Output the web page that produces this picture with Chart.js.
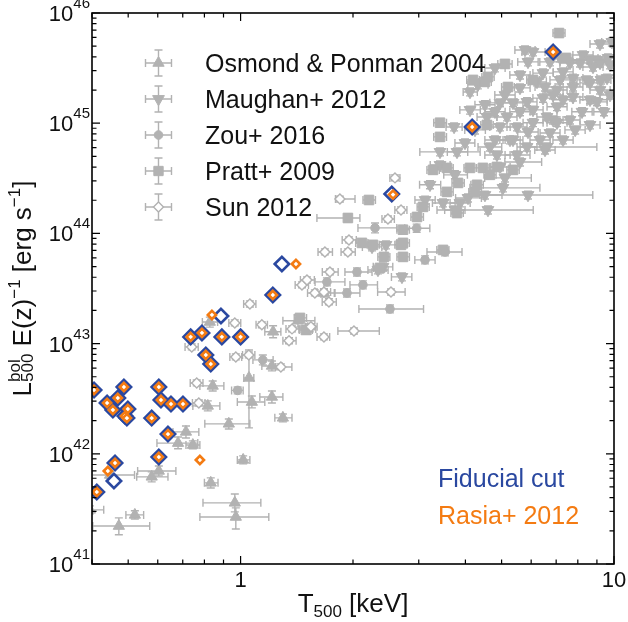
<!DOCTYPE html>
<html>
<head>
<meta charset="utf-8">
<title>L-T relation</title>
<script src="https://cdn.jsdelivr.net/npm/chart.js@4.4.1/dist/chart.umd.min.js"></script>
<style>
html,body{margin:0;padding:0;background:#ffffff;}
#box{position:relative;width:628px;height:622px;}
canvas{display:block;}
</style>
</head>
<body>
<div id="box"><canvas id="chart" width="628" height="622"></canvas></div>
<script>
// ---------------- data: T500 [keV], L500 E(z)^-1 [erg/s]; errors are [minus, plus] ----------------
const osmondT = [0.472,0.521,0.578,0.604,0.680,0.714,0.745,0.817,0.842,0.930,0.965,0.971,1.016,1.072,1.053,1.213,1.298,1.222,1.424,1.514,1.213,0.832,0.827,0.447,0.395,1.672];
const osmondL = [2.21e41,2.79e41,6.18e41,6.99e41,1.25e42,1.58e42,1.20e42,2.72e42,4.13e42,1.87e42,3.59e41,2.67e41,8.80e41,2.95e42,4.88e42,3.28e42,2.12e42,1.28e43,1.61e43,1.36e43,6.27e42,5.45e41,1.57e43,6.43e41,3.10e41,2.88e43];
const osmondTerr = [[0.070,0.099],[0.028,0.029],[0.051,0.061],[0.074,0.067],[0.083,0.088],[0.055,0.059],[0.031,0.033],[0.072,0.063],[0.064,0.060],[0.128,0.129],[0.172,0.168],[0.193,0.219],[0.036,0.043],[0.092,0.089],[0.033,0.032],[0.087,0.085],[0.063,0.075],[0.061,0.060],[0.126,0.157],[0.072,0.076],[0.073,0.077],[0.032,0.038],[0.037,0.041],[0.047,0.073],[0.025,0.035],[0.10,0.11]];
const osmondLerr = [[3.7e40,4.1e40],[2.3e40,2.5e40],[6.2e40,6.7e40],[6.9e40,7.7e40],[1.4e41,1.7e41],[1.9e41,2.1e41],[0.9e41,1.1e41],[2.7e41,3.0e41],[4.1e41,4.5e41],[1.9e41,2.0e41],[6.2e40,7.3e40],[5.9e40,5.6e40],[7.0e40,7.7e40],[3.4e41,4.0e41],[3.16e42,3.88e42],[3.9e41,4.4e41],[1.7e41,1.8e41],[1.5e42,1.7e42],[2.0e42,2.1e42],[1.4e42,1.5e42],[6.2e41,6.9e41],[5.5e40,6.0e40],[1.6e42,1.7e42],[4.3e40,4.7e40],[2.5e40,2.7e40],[2.3e42,2.5e42]];

const maughanT = [6.068,4.115,3.73,3.42,3.99,3.798,4.654,4.859,5.498,6.616,5.043,5.884,3.484,4.597,3.869,2.705,2.406,2.451,2.249,2.333,6.22,6.455,7.302,7.623,8.261,9.006,9.757,7.766,8.468,8.786,9.58,4.950,5.364,5.849,6.455,6.865,6.068,7.037,7.766,8.625,5.169,4.568,4.950,5.499,6.068,6.865,5.364,5.849,6.616,7.037,6.739,9.006,7.302,8.109,9.174,6.535,7.037,8.625,9.23,5.601,5.777,7.168,7.766,8.625,9.64,
  4.80,5.884,4.32,5.105,4.512,4.80,5.601,5.884,6.336,7.302,7.623,8.21,9.174,9.757,9.40,5.601,5.105,4.512,4.065,3.75,3.215,4.244,4.115,4.80,6.535,7.168,6.739,9.174,9.87,5.601,7.87,8.625,3.42,3.12,3.75,5.266,4.950];
const maughanL = [4.43e45,1.92e45,9.25e44,5.49e44,6.62e44,5.49e44,6.09e44,5.15e44,5.15e44,6.09e44,2.59e44,2.23e44,1.89e44,1.63e44,1.89e44,4.03e43,4.97e43,7.87e43,7.54e43,4.66e43,2.37e45,2.85e45,2.92e45,3.52e45,4.16e45,3.75e45,3.38e45,2.57e45,2.47e45,3.24e45,2.57e45,1.53e45,1.53e45,1.56e45,1.69e45,1.80e45,1.32e45,1.41e45,1.73e45,1.63e45,1.14e45,1.14e45,9.25e44,9.25e44,1.01e45,1.07e45,7.05e44,6.09e44,1.14e45,1.01e45,8.16e44,1.56e45,1.63e45,3.52e45,3.52e45,2.13e45,2.00e45,2.32e45,2.47e45,2.09e45,4.62e45,2.47e45,2.13e45,3.75e45,3.91e45,
  3.17e45,3.60e45,2.23e45,1.80e45,1.47e45,1.27e45,1.27e45,8.33e44,7.05e44,7.05e44,1.07e45,1.27e45,2.00e45,1.80e45,1.27e45,4.45e44,3.19e44,2.23e44,2.10e44,3.40e44,2.76e44,8.69e44,1.32e45,7.05e44,5.72e44,3.91e45,3.60e45,5.23e45,5.46e45,2.74e45,8.69e44,9.65e44,4.18e44,2.01e44,1.63e44,7.05e44,4.01e44];
const maughanTerr = [[0.40,0.47],[0.17,0.19],[0.18,0.19],[0.40,0.96],[0.24,0.25],[0.22,0.26],[0.33,0.35],[0.35,0.41],[0.39,0.46],[1.01,2.38],[0.93,1.29],[1.51,2.89],[0.22,0.27],[1.24,1.48],[0.23,0.25],[0.17,0.17],[0.14,0.15],[0.14,0.16],[0.13,0.14],[0.14,0.15],[0.33,0.37],[0.39,0.42],[0.43,0.47],[0.46,0.49],[0.50,0.53],[0.54,0.58],[0.58,0.60],[0.46,0.49],[0.51,0.54],[0.53,0.56],[0.58,0.42],[0.30,0.35],[0.32,0.34],[0.35,0.37],[0.39,0.42],[0.41,0.44],[0.36,0.39],[0.42,0.45],[0.46,0.49],[0.52,0.96],[0.31,0.33],[0.27,0.29],[0.30,0.32],[0.33,0.35],[0.36,0.39],[0.41,0.44],[0.32,0.34],[0.35,0.37],[0.40,0.42],[0.42,0.45],[0.40,0.43],[0.54,0.58],[0.43,0.47],[0.49,0.52],[0.55,0.58],[0.39,0.42],[0.42,0.45],[0.52,0.55],[0.55,0.58],[0.34,0.36],[0.35,0.37],[0.43,0.46],[0.46,0.49],[0.52,0.55],[0.58,0.36],
  [0.29,0.31],[0.36,0.38],[0.26,0.28],[0.31,0.33],[0.27,0.29],[0.29,0.31],[0.34,0.36],[0.36,0.38],[0.38,0.41],[0.44,0.47],[0.46,0.49],[0.50,0.53],[0.55,0.59],[0.59,0.63],[0.57,0.60],[0.50,0.80],[0.60,0.90],[0.40,0.50],[0.30,0.35],[0.25,0.30],[0.20,0.22],[0.26,0.28],[0.25,0.27],[0.29,0.31],[0.40,0.42],[0.43,0.46],[0.41,0.43],[0.55,0.59],[0.60,0.60],[0.34,0.36],[0.48,0.50],[0.52,0.55],[0.20,0.22],[0.19,0.20],[0.23,0.24],[0.32,0.34],[0.30,0.32]];
const maughanLerr = [[3.5e44,3.9e44],[1.5e44,1.7e44],[7.4e43,8.0e43],[4.4e43,4.8e43],[5.3e43,5.8e43],[4.4e43,4.8e43],[4.9e43,5.3e43],[4.1e43,4.5e43],[4.1e43,4.5e43],[4.9e43,5.3e43],[2.1e43,2.3e43],[1.8e43,1.9e43],[1.5e43,1.6e43],[1.3e43,1.4e43],[1.5e43,1.6e43],[3.2e42,3.5e42],[4.0e42,4.3e42],[6.3e42,6.8e42],[6.0e42,6.6e42],[3.7e42,4.1e42],[1.9e44,2.1e44],[2.3e44,2.5e44],[2.3e44,2.5e44],[2.8e44,3.1e44],[3.3e44,3.6e44],[3.0e44,3.3e44],[2.7e44,2.9e44],[2.1e44,2.2e44],[2.0e44,2.1e44],[2.6e44,2.8e44],[2.1e44,2.2e44],[1.2e44,1.3e44],[1.2e44,1.3e44],[1.2e44,1.4e44],[1.4e44,1.5e44],[1.4e44,1.6e44],[1.1e44,1.1e44],[1.1e44,1.2e44],[1.4e44,1.5e44],[1.3e44,1.4e44],[9.1e43,9.9e43],[9.1e43,9.9e43],[7.4e43,8.0e43],[7.4e43,8.0e43],[8.0e43,8.8e43],[8.6e43,9.3e43],[5.6e43,6.1e43],[4.9e43,5.3e43],[9.1e43,9.9e43],[8.0e43,8.8e43],[6.5e43,7.1e43],[1.2e44,1.4e44],[1.3e44,1.4e44],[2.8e44,3.1e44],[2.8e44,3.1e44],[1.7e44,1.9e44],[1.6e44,1.7e44],[1.9e44,2.0e44],[2.0e44,2.1e44],[1.7e44,1.8e44],[3.7e44,4.0e44],[2.0e44,2.1e44],[1.7e44,1.9e44],[3.0e44,3.3e44],[3.1e44,3.4e44],
  [2.5e44,2.8e44],[2.9e44,3.1e44],[1.8e44,1.9e44],[1.4e44,1.6e44],[1.2e44,1.3e44],[1.0e44,1.1e44],[1.0e44,1.1e44],[6.7e43,7.2e43],[5.6e43,6.1e43],[5.6e43,6.1e43],[8.6e43,9.3e43],[1.0e44,1.1e44],[1.6e44,1.7e44],[1.4e44,1.6e44],[1.0e44,1.1e44],[3.6e43,3.9e43],[2.6e43,2.8e43],[1.8e43,1.9e43],[1.7e43,1.8e43],[2.7e43,3.0e43],[2.2e43,2.4e43],[7.0e43,7.6e43],[1.1e44,1.1e44],[5.6e43,6.1e43],[4.6e43,5.0e43],[3.1e44,3.4e44],[2.9e44,3.1e44],[4.2e44,4.5e44],[4.4e44,4.8e44],[2.2e44,2.4e44],[7.0e43,7.6e43],[7.7e43,8.4e43],[3.3e43,3.6e43],[1.6e43,1.7e43],[1.3e43,1.4e43],[5.6e43,6.1e43],[3.2e43,3.5e43]];

const zouT = [0.982,1.147,1.703,2.050,2.126,1.927,2.291,2.512,3.527,3.118,2.962];
const zouL = [3.76e42,7.11e42,3.63e43,4.47e43,3.41e43,2.88e43,1.122e44,2.06e43,6.79e43,5.75e43,1.115e44];
const zouTerr = [[0.036,0.034],[0.068,0.075],[0.12,0.20],[0.147,0.199],[0.163,0.20],[0.137,0.16],[0.229,0.33],[0.438,0.578],[0.371,0.39],[0.19,0.20],[0.21,0.25]];
const zouLerr = [[2.6e41,2.8e41],[7.0e41,7.8e41],[2.9e42,3.2e42],[3.6e42,3.9e42],[2.7e42,3.0e42],[2.3e42,2.5e42],[1.1e43,1.2e43],[1.6e42,1.8e42],[5.4e42,5.9e42],[4.6e42,5.0e42],[9.0e42,1.0e43]];

const prattT = [7.124,5.105,4.596,4.512,5.20,3.42,3.42,4.568,3.275,3.57,4.115,4.457,4.859,5.364,4.654,3.822,4.297,3.57,4.244,3.798,3.08,2.968,2.722,2.207,2.722,2.722,2.113,2.263,2.689,3.484,2.362,2.421,1.938,1.496,1.442,4.192,6.068,7.438];
const prattL = [6.58e45,3.45e45,2.63e45,2.37e45,2.13e45,1.01e45,7.51e44,9.65e44,3.77e44,3.93e44,3.93e44,3.93e44,4.01e44,3.77e44,3.40e44,2.87e44,2.76e44,2.38e44,2.38e44,1.53e44,1.74e44,1.41e44,1.08e44,2.01e44,8.20e43,6.12e43,8.20e43,7.87e43,7.87e43,7.08e43,4.86e43,6.12e43,1.38e44,1.33e43,1.71e43,2.47e45,2.47e45,3.91e45];
const prattTerr = [[0.26,0.27],[0.22,0.23],[0.17,0.18],[0.17,0.18],[0.20,0.21],[0.13,0.14],[0.13,0.14],[0.17,0.18],[0.12,0.13],[0.13,0.14],[0.15,0.16],[0.17,0.17],[0.18,0.19],[0.20,0.21],[0.17,0.18],[0.14,0.15],[0.16,0.17],[0.13,0.14],[0.16,0.17],[0.14,0.15],[0.11,0.12],[0.11,0.12],[0.10,0.11],[0.08,0.09],[0.10,0.11],[0.10,0.11],[0.08,0.08],[0.08,0.09],[0.10,0.10],[0.13,0.13],[0.09,0.09],[0.09,0.09],[0.337,0.149],[0.06,0.06],[0.05,0.06],[0.16,0.17],[0.23,0.24],[0.28,0.29]];
const prattLerr = [[5.3e44,5.7e44],[2.8e44,3.0e44],[2.1e44,2.3e44],[1.9e44,2.1e44],[1.7e44,1.9e44],[8.0e43,8.8e43],[6.0e43,6.5e43],[7.7e43,8.4e43],[3.0e43,3.3e43],[3.1e43,3.4e43],[3.1e43,3.4e43],[3.1e43,3.4e43],[3.2e43,3.5e43],[3.0e43,3.3e43],[2.7e43,3.0e43],[2.3e43,2.5e43],[2.2e43,2.4e43],[1.9e43,2.1e43],[1.9e43,2.1e43],[1.2e43,1.3e43],[1.4e43,1.5e43],[1.1e43,1.2e43],[8.6e42,9.4e42],[1.6e43,1.7e43],[6.6e42,7.1e42],[4.9e42,5.3e42],[6.6e42,7.1e42],[6.3e42,6.8e42],[6.3e42,6.8e42],[5.7e42,6.2e42],[3.9e42,4.2e42],[4.9e42,5.3e42],[1.1e43,1.2e43],[1.1e42,1.2e42],[1.4e42,1.5e42],[2.0e44,2.1e44],[2.0e44,2.1e44],[3.1e44,3.4e44]];

const sunT = [0.740,0.763,0.773,0.965,0.971,1.059,1.14,1.348,1.373,1.46,1.672,2.012,1.543,1.735,1.506,1.581,1.672,1.724,1.682,1.938,1.951,1.845,2.591,2.689,2.481,2.528,1.052,1.282];
const sunL = [9.33e42,4.39e42,2.89e42,1.54e43,7.57e42,2.29e43,1.48e43,1.06e43,1.36e43,3.41e43,1.15e43,1.30e43,1.42e43,4.47e43,3.78e43,2.88e43,2.94e43,2.39e43,6.79e43,6.79e43,8.73e43,2.05e44,3.19e44,1.63e44,1.35e44,2.94e43,7.89e42,6.14e42];
const sunTerr = [[0.03,0.03],[0.03,0.03],[0.03,0.03],[0.035,0.036],[0.035,0.036],[0.04,0.04],[0.04,0.04],[0.05,0.06],[0.05,0.06],[0.06,0.06],[0.07,0.06],[0.19,0.34],[0.05,0.06],[0.08,0.09],[0.06,0.07],[0.07,0.07],[0.07,0.07],[0.07,0.08],[0.07,0.08],[0.08,0.09],[0.08,0.09],[0.05,0.18],[0.08,0.08],[0.10,0.10],[0.09,0.10],[0.20,0.23],[0.04,0.04],[0.04,0.09]];
const sunLerr = [[5.6e41,6.1e41],[2.6e41,2.9e41],[1.7e41,1.9e41],[9.2e41,1.0e42],[4.5e41,4.9e41],[1.4e42,1.5e42],[8.9e41,9.6e41],[6.4e41,6.9e41],[8.2e41,8.8e41],[2.0e42,2.2e42],[6.9e41,7.5e41],[7.8e41,8.5e41],[8.5e41,9.2e41],[2.7e42,2.9e42],[2.3e42,2.5e42],[1.7e42,1.9e42],[1.8e42,1.9e42],[1.4e42,1.6e42],[4.1e42,4.4e42],[4.1e42,4.4e42],[5.2e42,5.7e42],[1.2e43,1.3e43],[1.9e43,2.1e43],[9.8e42,1.1e43],[8.1e42,8.8e42],[1.8e42,1.9e42],[4.7e41,5.1e41],[3.7e41,4.0e41]];

const fiducialT = [6.87,4.17,2.54,1.29,1.22,0.886,0.735,0.788,0.891,1.00,0.807,0.832,0.405,0.439,0.455,0.469,0.487,0.490,0.499,0.496,0.578,0.604,0.612,0.651,0.701,0.639,0.604,0.461,0.458,0.412];
const fiducialL = [4.43e45,9.24e44,2.28e44,5.28e43,2.76e43,1.78e43,1.15e43,1.25e43,1.15e43,1.15e43,7.88e42,6.53e42,3.79e42,2.89e42,2.50e42,3.21e42,4.04e42,2.20e42,2.55e42,2.11e42,2.11e42,4.04e42,3.08e42,2.83e42,2.83e42,1.51e42,9.35e41,8.25e41,5.66e41,4.50e41];

const rasiaT = [6.87,4.17,2.56,1.22,0.735,0.788,0.891,1.00,0.807,0.832,0.405,0.439,0.455,0.469,0.487,0.490,0.499,0.496,0.578,0.604,0.612,0.651,0.701,0.639,0.604,0.461,0.412,1.407,0.838,0.441,0.778];
const rasiaL = [4.43e45,9.24e44,2.25e44,2.76e43,1.15e43,1.25e43,1.15e43,1.15e43,7.88e42,6.53e42,3.79e42,2.89e42,2.50e42,3.21e42,4.04e42,2.20e42,2.55e42,2.11e42,2.11e42,4.04e42,3.08e42,2.83e42,2.83e42,1.51e42,9.35e41,8.25e41,4.50e41,5.28e43,1.82e43,6.98e41,8.79e41];

const legendNames = ['Osmond & Ponman 2004','Maughan+ 2012','Zou+ 2016','Pratt+ 2009','Sun 2012'];
const cutLabels = ['Fiducial cut','Rasia+ 2012'];
const xRange = [0.4, 10];
const yRange = [1e41, 1e46];
const xTickValues = [1, 10];
const xTickLabels = ['1', '10'];
const yTickExponents = [41, 42, 43, 44, 45, 46];

// ---------------- styling ----------------
const FONT = "'Liberation Sans', Arial, Helvetica, sans-serif";
const GREY = '#b2b2b2';
const BLUE = '#2a48a0';
const ORANGE = '#f47b12';
const CAP = 4;

function pts(T, L) { return T.map((t, i) => ({ x: t, y: L[i] })); }

function greyDs(label, T, L, eT, eL, style, radius, extra) {
  return Object.assign({
    label: label, data: pts(T, L), errT: eT, errL: eL,
    pointStyle: style, pointRadius: radius, pointHoverRadius: radius,
    pointBackgroundColor: GREY, pointBorderColor: GREY, pointBorderWidth: 1,
    backgroundColor: GREY, borderColor: GREY, showLine: false, clip: 0
  }, extra || {});
}

// error bars drawn through the chart's own scales
const errorBarPlugin = {
  id: 'errorBars',
  beforeDatasetsDraw(chart) {
    const ctx = chart.ctx, a = chart.chartArea;
    const xs = chart.scales.x, ys = chart.scales.y;
    ctx.save();
    ctx.beginPath();
    ctx.rect(a.left, a.top, a.right - a.left, a.bottom - a.top);
    ctx.clip();
    ctx.strokeStyle = GREY;
    ctx.lineWidth = 1.4;
    chart.data.datasets.forEach(ds => {
      if (!ds.errT) return;
      ds.data.forEach((p, i) => {
        const et = ds.errT[i] || [0, 0], el = ds.errL[i] || [0, 0];
        const x = xs.getPixelForValue(p.x), y = ys.getPixelForValue(p.y);
        const x0 = xs.getPixelForValue(p.x - et[0]), x1 = xs.getPixelForValue(p.x + et[1]);
        const y0 = ys.getPixelForValue(p.y - el[0]), y1 = ys.getPixelForValue(p.y + el[1]);
        ctx.beginPath();
        ctx.moveTo(x0, y); ctx.lineTo(x1, y);
        ctx.moveTo(x, y0); ctx.lineTo(x, y1);
        ctx.moveTo(x0, y - CAP); ctx.lineTo(x0, y + CAP);
        ctx.moveTo(x1, y - CAP); ctx.lineTo(x1, y + CAP);
        ctx.moveTo(x - CAP, y0); ctx.lineTo(x + CAP, y0);
        ctx.moveTo(x - CAP, y1); ctx.lineTo(x + CAP, y1);
        ctx.stroke();
      });
    });
    ctx.restore();
  }
};

function drawMarker(ctx, style, x, y, r, fill, stroke, lw) {
  ctx.beginPath();
  if (style === 'triangle' || style === 'triangleDown') {
    const s = style === 'triangle' ? 1 : -1;
    for (let k = 0; k < 3; k++) {
      const ang = k * 2 * Math.PI / 3;
      const px = x + Math.sin(ang) * r, py = y - s * Math.cos(ang) * r;
      if (k === 0) ctx.moveTo(px, py); else ctx.lineTo(px, py);
    }
    ctx.closePath();
  } else if (style === 'circle') {
    ctx.arc(x, y, r, 0, 2 * Math.PI);
  } else if (style === 'rect') {
    const h = r * Math.SQRT1_2;
    ctx.rect(x - h, y - h, 2 * h, 2 * h);
  } else if (style === 'rectRot') {
    ctx.moveTo(x - r, y); ctx.lineTo(x, y - r); ctx.lineTo(x + r, y); ctx.lineTo(x, y + r);
    ctx.closePath();
  }
  ctx.fillStyle = fill; ctx.fill();
  ctx.strokeStyle = stroke; ctx.lineWidth = lw; ctx.stroke();
}

const frameTicksPlugin = {
  id: 'frameTicks',
  afterDraw(chart) {
    const ctx = chart.ctx, a = chart.chartArea;
    const xs = chart.scales.x, ys = chart.scales.y;
    ctx.save();
    // ticks (inside, all four sides)
    ctx.strokeStyle = '#000';
    ctx.lineWidth = 1.2;
    ctx.beginPath();
    [0.1, 1, 10].forEach(d => {
      for (let k = 1; k <= 9; k++) {
        const v = k * d;
        if (v < xRange[0] * 0.999 || v > xRange[1] * 1.001) continue;
        const px = xs.getPixelForValue(v);
        const len = k === 1 ? 8 : 4.5;
        ctx.moveTo(px, a.bottom); ctx.lineTo(px, a.bottom - len);
        ctx.moveTo(px, a.top); ctx.lineTo(px, a.top + len);
      }
    });
    for (let e = 41; e <= 46; e++) {
      for (let k = 1; k <= 9; k++) {
        const v = k * Math.pow(10, e);
        if (v > yRange[1] * 1.001) continue;
        const py = ys.getPixelForValue(v);
        const len = k === 1 ? 8 : 4.5;
        ctx.moveTo(a.left, py); ctx.lineTo(a.left + len, py);
        ctx.moveTo(a.right, py); ctx.lineTo(a.right - len, py);
      }
    }
    ctx.stroke();
    // frame
    ctx.lineWidth = 1.6;
    ctx.strokeRect(a.left, a.top, a.right - a.left, a.bottom - a.top);

    // tick labels
    ctx.fillStyle = '#111';
    ctx.textBaseline = 'alphabetic';
    ctx.textAlign = 'center';
    ctx.font = '22px ' + FONT;
    xTickValues.forEach((v, i) => {
      ctx.fillText(xTickLabels[i], xs.getPixelForValue(v), a.bottom + 23);
    });
    yTickExponents.forEach(e => {
      const py = ys.getPixelForValue(Math.pow(10, e));
      ctx.textAlign = 'right';
      ctx.font = '15px ' + FONT;
      const supW = ctx.measureText(String(e)).width;
      const right = a.left - 2;
      ctx.fillText(String(e), right, py - 5);
      ctx.font = '22px ' + FONT;
      ctx.fillText('10', right - supW, py + 8);
    });

    // x axis title: T_500 [keV]
    const mainF = '26px ' + FONT, subF = '17px ' + FONT;
    ctx.textAlign = 'left';
    ctx.font = mainF; const wT = ctx.measureText('T').width; const wK = ctx.measureText(' [keV]').width;
    ctx.font = subF; const wS = ctx.measureText('500').width;
    let x0 = (a.left + a.right) / 2 - (wT + wS + wK) / 2;
    const bx = 612;
    ctx.font = mainF; ctx.fillText('T', x0, bx);
    ctx.font = subF; ctx.fillText('500', x0 + wT, bx + 5);
    ctx.font = mainF; ctx.fillText(' [keV]', x0 + wT + wS, bx);

    // y axis title (rotated)
    ctx.save();
    ctx.translate(31, (a.top + a.bottom) / 2);
    ctx.rotate(-Math.PI / 2);
    const segs = [
      { t: 'L', f: mainF, dy: 0 },
      { stack: [{ t: 'bol', f: subF, dy: -11.5 }, { t: '500', f: subF, dy: 1.5 }] },
      { t: ' E(z)', f: mainF, dy: 0 },
      { t: '\u22121', f: subF, dy: -11 },
      { t: ' [erg s', f: mainF, dy: 0 },
      { t: '\u22121', f: subF, dy: -11 },
      { t: ']', f: mainF, dy: 0 }
    ];
    let total = 0;
    segs.forEach(s => {
      if (s.stack) {
        s.w = Math.max(...s.stack.map(q => { ctx.font = q.f; return ctx.measureText(q.t).width; }));
      } else { ctx.font = s.f; s.w = ctx.measureText(s.t).width; }
      total += s.w;
    });
    let cx = -total / 2;
    segs.forEach(s => {
      if (s.stack) {
        s.stack.forEach(q => { ctx.font = q.f; ctx.fillText(q.t, cx, q.dy); });
      } else { ctx.font = s.f; ctx.fillText(s.t, cx, s.dy); }
      cx += s.w;
    });
    ctx.restore();

    // legend (grey series with error-bar glyphs)
    const styles = [['triangle', 6.5], ['triangleDown', 6.8], ['circle', 4.3], ['rect', 6.6], ['rectRot', 5]];
    legendNames.forEach((name, i) => {
      const ly = 63 + 36 * i, lx = 158.5;
      ctx.strokeStyle = GREY; ctx.lineWidth = 1.4;
      ctx.beginPath();
      ctx.moveTo(lx - 13, ly); ctx.lineTo(lx + 13, ly);
      ctx.moveTo(lx, ly - 13); ctx.lineTo(lx, ly + 13);
      ctx.moveTo(lx - 13, ly - CAP); ctx.lineTo(lx - 13, ly + CAP);
      ctx.moveTo(lx + 13, ly - CAP); ctx.lineTo(lx + 13, ly + CAP);
      ctx.moveTo(lx - CAP, ly - 13); ctx.lineTo(lx + CAP, ly - 13);
      ctx.moveTo(lx - CAP, ly + 13); ctx.lineTo(lx + CAP, ly + 13);
      ctx.stroke();
      const st = styles[i];
      if (st[0] === 'rectRot') drawMarker(ctx, 'rectRot', lx, ly, st[1], '#fff', GREY, 1.4);
      else drawMarker(ctx, st[0], lx, ly, st[1], GREY, GREY, 1);
      ctx.fillStyle = '#111';
      ctx.font = '25px ' + FONT;
      ctx.textAlign = 'left';
      ctx.fillText(name, 205, ly + 9);
    });

    // cut labels
    ctx.font = '25px ' + FONT;
    ctx.fillStyle = BLUE; ctx.fillText(cutLabels[0], 438, 487);
    ctx.fillStyle = ORANGE; ctx.fillText(cutLabels[1], 438, 524);
    ctx.restore();
  }
};

const datasets = [
  { label: cutLabels[1], data: pts(rasiaT, rasiaL), pointStyle: 'rectRot', pointRadius: 4.1, pointHoverRadius: 4.1,
    pointBackgroundColor: '#ffffff', pointBorderColor: ORANGE, pointBorderWidth: 2.6, showLine: false, clip: 0, order: 0 },
  { label: cutLabels[0], data: pts(fiducialT, fiducialL), pointStyle: 'rectRot', pointRadius: 7.2, pointHoverRadius: 7.2,
    pointBackgroundColor: '#ffffff', pointBorderColor: BLUE, pointBorderWidth: 2.6, showLine: false, clip: 0, order: 1 },
  greyDs(legendNames[4], sunT, sunL, sunTerr, sunLerr, 'rectRot', 5, { pointBackgroundColor: '#ffffff', pointBorderWidth: 1.4, order: 2 }),
  greyDs(legendNames[2], zouT, zouL, zouTerr, zouLerr, 'circle', 4.3, { order: 3 }),
  greyDs(legendNames[3], prattT, prattL, prattTerr, prattLerr, 'rect', 6.8, { order: 4 }),
  greyDs(legendNames[1], maughanT, maughanL, maughanTerr, maughanLerr, 'triangle', 6.8, { pointRotation: 180, order: 5 }),
  greyDs(legendNames[0], osmondT, osmondL, osmondTerr, osmondLerr, 'triangle', 6.5, { order: 6 })
];

new Chart(document.getElementById('chart'), {
  type: 'scatter',
  data: { datasets: datasets },
  options: {
    responsive: false,
    animation: false,
    devicePixelRatio: 1,
    events: [],
    layout: { padding: { left: 92, top: 13, right: 14, bottom: 58 } },
    plugins: { legend: { display: false }, tooltip: { enabled: false }, title: { display: false } },
    scales: {
      x: { type: 'logarithmic', min: xRange[0], max: xRange[1], display: false },
      y: { type: 'logarithmic', min: yRange[0], max: yRange[1], display: false }
    }
  },
  plugins: [errorBarPlugin, frameTicksPlugin]
});
</script>
</body>
</html>
